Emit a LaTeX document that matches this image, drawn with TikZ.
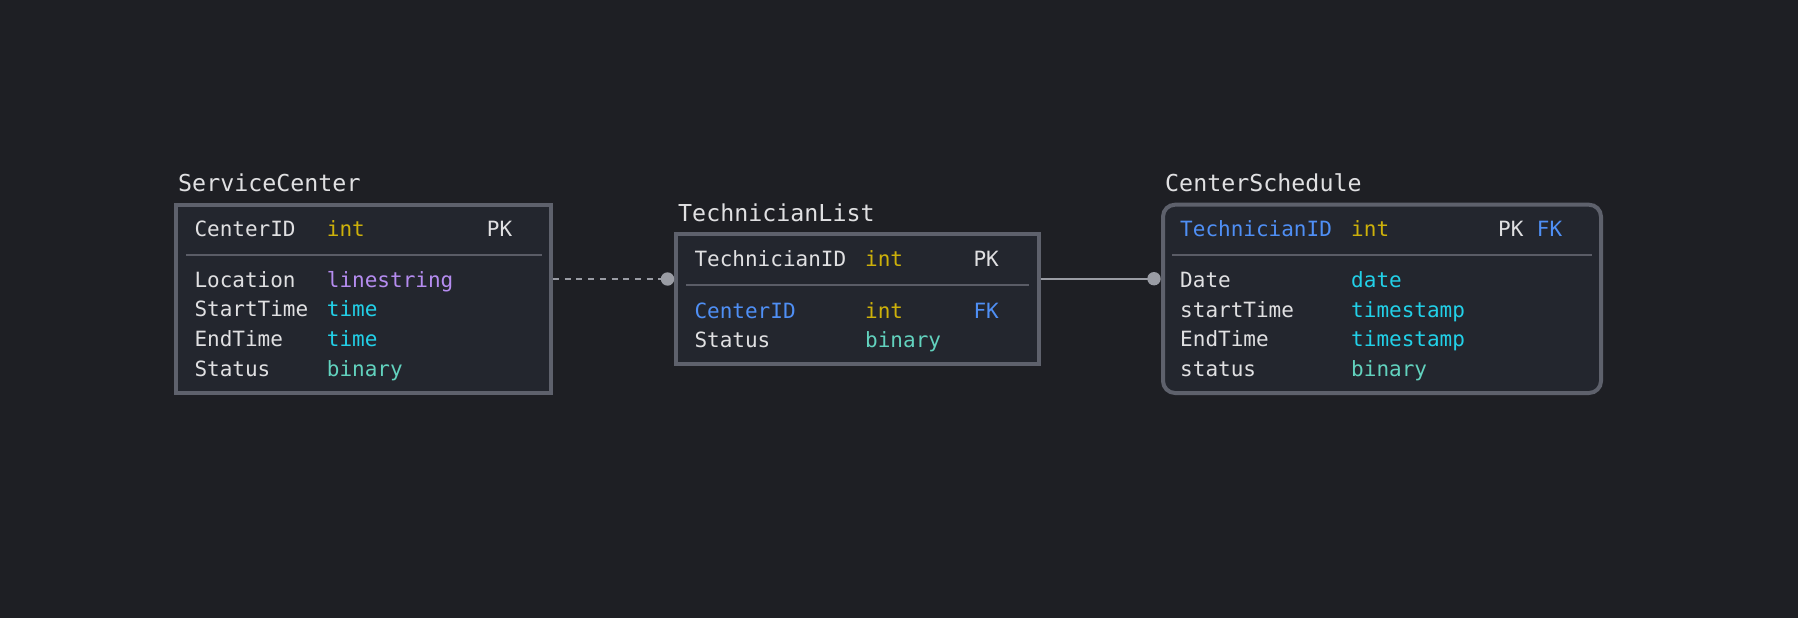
\documentclass[tikz,border=0pt]{standalone}
\usepackage{fontspec}
\usepackage{tikz}
\newfontfamily\erfont{DejaVu Sans Mono}
\definecolor{bgc}{HTML}{1E1F24}
\definecolor{boxfill}{HTML}{23262E}
\definecolor{boxline}{HTML}{5E616C}
\definecolor{sepline}{HTML}{5A5C66}
\definecolor{txt}{HTML}{E0E0E2}
\definecolor{tint}{HTML}{CDB10A}
\definecolor{tgeo}{HTML}{B58CF0}
\definecolor{ttime}{HTML}{22D0E8}
\definecolor{tbin}{HTML}{62D2BE}
\definecolor{keyblue}{HTML}{4F8FF5}
\definecolor{relc}{HTML}{9A9CA4}
\tikzset{
  tbl/.style={draw=boxline, fill=boxfill, line width=4pt, minimum width=#1, inner sep=0pt},
  ttl/.style={anchor=base west, inner sep=0pt, text=txt, font=\erfont\fontsize{23.3}{24}\selectfont},
  fld/.style={anchor=base west, inner sep=0pt, text=#1, font=\erfont\fontsize{21}{22}\selectfont},
  fld/.default=txt,
  sep/.style={draw=sepline, line width=2pt},
  rel/.style={draw=relc, line width=2pt},
  dotc/.style={fill=relc}
}
\begin{document}
\begin{tikzpicture}[x=1pt,y=-1pt]
\fill[bgc] (0,0) rectangle (1798,618);
% tables
\node[tbl=374.7pt, minimum height=188.3pt] (sc) at (363.65,298.85) {};
\node[tbl=362.4pt, minimum height=129.7pt] (tl) at (857.5,299.15) {};
\node[tbl=438pt, minimum height=188.3pt, rounded corners=12pt] (cs) at (1382,298.85) {};
\draw[sep] (186,255) -- (542,255);
\draw[sep] (686,285) -- (1029,285);
\draw[sep] (1172,255) -- (1592,255);
% ServiceCenter
\node[ttl] (scT) at (178,191) {ServiceCenter};
\node[fld] (sc1) at (194.3,236) {CenterID};
\node[fld=tint] (sc1t) at (326.7,236) {int};
\node[fld] (sc1k) at (486.7,236) {PK};
\node[fld] (sc2) at (194.3,287) {Location};
\node[fld=tgeo] (sc2t) at (326.7,287) {linestring};
\node[fld] (sc3) at (194.3,316.7) {StartTime};
\node[fld=ttime] (sc3t) at (326.7,316.7) {time};
\node[fld] (sc4) at (194.3,346.3) {EndTime};
\node[fld=ttime] (sc4t) at (326.7,346.3) {time};
\node[fld] (sc5) at (194.3,376) {Status};
\node[fld=tbin] (sc5t) at (326.7,376) {binary};
% TechnicianList
\node[ttl] (tlT) at (678,221) {TechnicianList};
\node[fld] (tl1) at (694.3,266) {TechnicianID};
\node[fld=tint] (tl1t) at (865,266) {int};
\node[fld] (tl1k) at (973.3,266) {PK};
\node[fld=keyblue] (tl2) at (694.3,318.3) {CenterID};
\node[fld=tint] (tl2t) at (865,318.3) {int};
\node[fld=keyblue] (tl2k) at (973.3,318.3) {FK};
\node[fld] (tl3) at (694.3,347.3) {Status};
\node[fld=tbin] (tl3t) at (865,347.3) {binary};
% CenterSchedule
\node[ttl] (csT) at (1165,191) {CenterSchedule};
\node[fld=keyblue] (cs1) at (1180,236) {TechnicianID};
\node[fld=tint] (cs1t) at (1351,236) {int};
\node[fld] (cs1k) at (1498,236) {PK};
\node[fld=keyblue] (cs1f) at (1536.7,236) {FK};
\node[fld] (cs2) at (1180,287.5) {Date};
\node[fld=ttime] (cs2t) at (1351,287.5) {date};
\node[fld] (cs3) at (1180,317) {startTime};
\node[fld=ttime] (cs3t) at (1351,317) {timestamp};
\node[fld] (cs4) at (1180,346.5) {EndTime};
\node[fld=ttime] (cs4t) at (1351,346.5) {timestamp};
\node[fld] (cs5) at (1180,376) {status};
\node[fld=tbin] (cs5t) at (1351,376) {binary};
% relations
\coordinate (d1) at (667.5,279);
\coordinate (d2) at (1154,278.7);
\draw[rel, dash pattern=on 6pt off 5.7pt] (sc.east |- d1) -- (d1);
\fill[dotc] (d1) circle (6.7);
\draw[rel] (tl.east |- d2) -- (d2);
\fill[dotc] (d2) circle (6.7);
\end{tikzpicture}
\end{document}
